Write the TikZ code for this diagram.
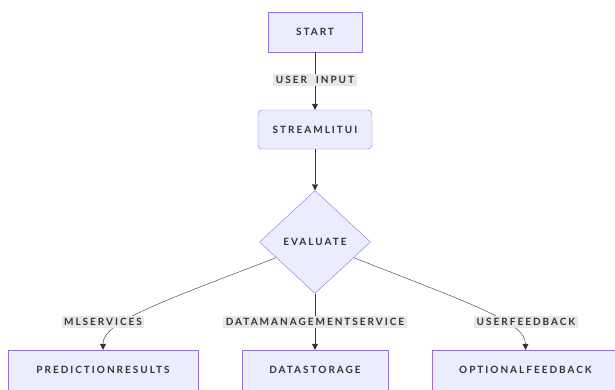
\documentclass[tikz,border=0pt]{standalone}
\usepackage{fontspec}
\setmainfont{Lato}[LetterSpace=20,WordSpace=2]
\usetikzlibrary{shapes.geometric,arrows.meta}
\definecolor{boxfill}{HTML}{ECECFF}
\definecolor{boxline}{HTML}{9370DB}
\definecolor{ink}{HTML}{333333}
\definecolor{lblfill}{HTML}{E8E8E8}
\newcommand*{\txt}{\fontsize{10}{12}\selectfont\bfseries}

\begin{document}
\begin{tikzpicture}
[
	x=1pt,
	y=-1pt,
	box/.style={draw=boxline,fill=boxfill,minimum height=40pt,inner sep=0pt,font=\txt,text=ink},
	decision/.style={diamond,draw=boxline,fill=boxfill,minimum width=111pt,minimum height=103pt,inner sep=0pt,font=\txt,text=ink},
	lbl/.style={fill=lblfill,inner sep=2.5pt,font=\txt,text=ink},
	edge/.style={draw=ink,-{Triangle[width=6pt,length=6pt]}}
]

	\useasboundingbox (0,0) rectangle (615,389);
	\clip (0,0) rectangle (615,389);

	% flow nodes
	\node[box,minimum width=94pt] at (315,32) (start) {START};
	\node[box,rounded corners=4pt,minimum width=114pt,minimum height=39pt] at (315,129.5) (streamlitui) {STREAMLITUI};
	\node[decision] at (315,242) (evaluate) {EVALUATE};
	\node[box,minimum width=190pt] at (103,370) (predresults) {PREDICTIONRESULTS};
	\node[box,minimum width=146pt] at (315,370) (datastorage) {DATASTORAGE};
	\node[box,minimum width=187pt] at (525.5,370) (optfeedback) {OPTIONALFEEDBACK};

	% connectors
	\draw[edge] (start) -- (streamlitui);
	\draw[edge] (streamlitui) -- (evaluate);
	\draw[edge] (evaluate.202) .. controls (161,302) and (103,322) .. (predresults.north);
	\draw[edge] (evaluate) -- (datastorage);
	\draw[edge] (evaluate.338) .. controls (469,303) and (525.5,322) .. (optfeedback.north);

	% edge labels
	\node[lbl] at (315,80) (lbluser) {USER INPUT};
	\node[lbl] at (103,322) (lblml) {MLSERVICES};
	\node[lbl] at (315,322) (lbldata) {DATAMANAGEMENTSERVICE};
	\node[lbl] at (526,322) (lblfeed) {USERFEEDBACK};

\end{tikzpicture}
\end{document}
